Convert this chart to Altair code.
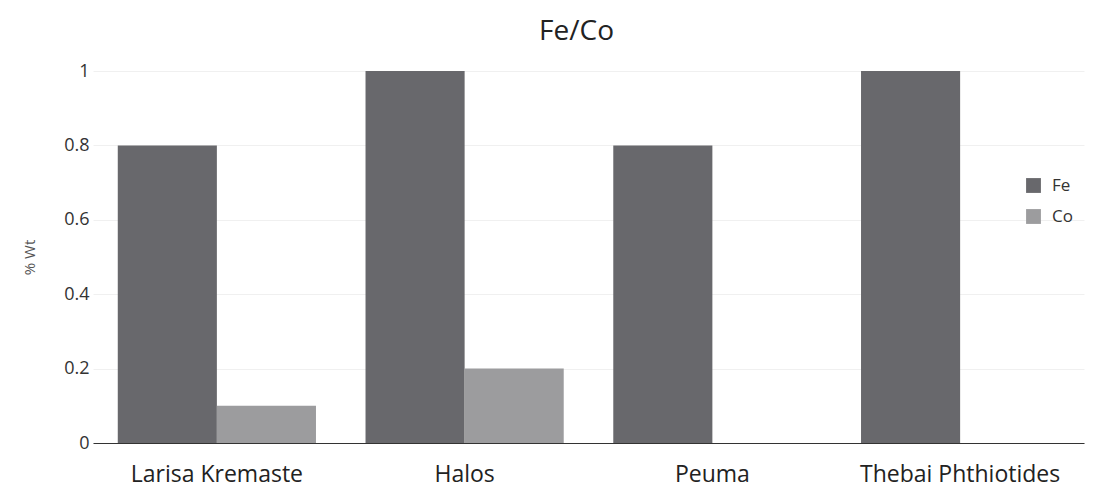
import altair as alt
import pandas as pd

sites = ["Larisa Kremaste", "Halos", "Peuma", "Thebai Phthiotides"]
fe = [0.8, 1.0, 0.8, 1.0]
co = [0.1, 0.2, 0.0, 0.0]
elements = ["Fe", "Co"]
colors = ["#68686c", "#9c9c9e"]

rows = []
for s, f, c in zip(sites, fe, co):
    rows.append({"site": s, "element": "Fe", "value": f})
    rows.append({"site": s, "element": "Co", "value": c})
df = pd.DataFrame(rows)

font = "Open Sans"

chart = alt.Chart(df).mark_bar().encode(
    x=alt.X("site:N", sort=sites, title=None,
            scale=alt.Scale(paddingInner=0.2, paddingOuter=0.1),
            axis=alt.Axis(labelAngle=0, labelFontSize=23, labelFont=font, labelColor="#222222",
                          labelLimit=0, domainColor="#333333", domainWidth=1.2, ticks=False,
                          labelPadding=20)),
    xOffset=alt.XOffset("element:N", sort=elements, scale=alt.Scale(paddingInner=0, paddingOuter=0)),
    y=alt.Y("value:Q", title="% Wt", scale=alt.Scale(domain=[0, 1]),
            axis=alt.Axis(values=[0, 0.2, 0.4, 0.6, 0.8, 1], format="~g", labelFontSize=18,
                          labelFont=font, labelColor="#333333", domain=False, ticks=False,
                          labelPadding=4, titleFont=font, titleFontSize=15, titleFontWeight="normal",
                          titleColor="#555555", titlePadding=26, gridColor="#f0f0f0")),
    color=alt.Color("element:N", sort=elements,
                    scale=alt.Scale(domain=elements, range=colors),
                    legend=alt.Legend(title=None, orient="none", legendX=932, legendY=106,
                                      labelFont=font, labelFontSize=17, labelColor="#333333",
                                      symbolType="square", symbolSize=220, rowPadding=13,
                                      labelOffset=10, symbolStrokeWidth=0)),
).properties(
    width=991, height=372,
    padding={"left": 85, "top": 63, "right": 10, "bottom": 50},
    autosize=alt.AutoSizeParams(type="none"),
    title=alt.TitleParams("Fe/Co", fontSize=28, font=font, fontWeight="normal", color="#222222",
                          anchor="middle", offset=16, dx=-12),
).configure_view(stroke=None)

chart.save("out.html", embed_options={"renderer": "svg", "actions": False})
